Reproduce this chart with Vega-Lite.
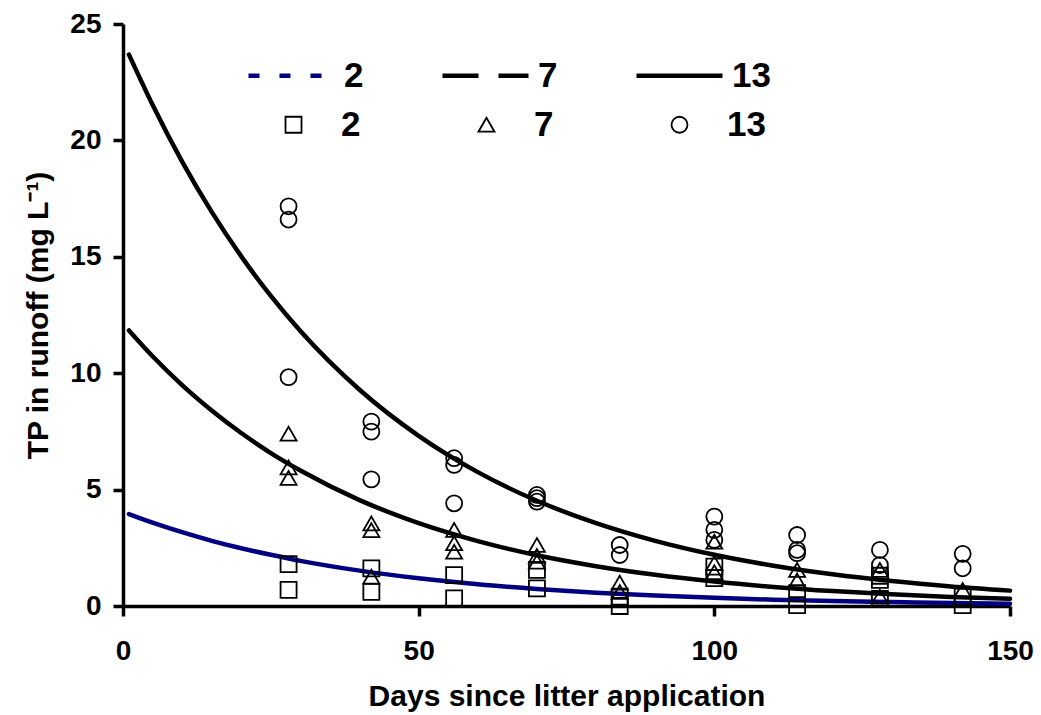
{
  "$schema": "https://vega.github.io/schema/vega-lite/v6.json",
  "width": 887,
  "height": 582,
  "autosize": {"type": "none"},
  "padding": {"left": 123, "top": 24, "right": 31, "bottom": 109},
  "background": "white",
  "config": {
    "view": {"stroke": null},
    "font": "Liberation Sans",
    "axis": {
      "grid": false,
      "domainColor": "black",
      "domainWidth": 3.5,
      "tickColor": "black",
      "tickWidth": 3.5,
      "tickSize": 10,
      "labelFont": "Liberation Sans",
      "labelFontWeight": "bold",
      "labelFontSize": 28,
      "labelColor": "black",
      "titleFont": "Liberation Sans",
      "titleFontWeight": "bold",
      "titleFontSize": 30,
      "titleColor": "black",
      "labelOverlap": false
    }
  },
  "datasets": {
    "curves": [
      {"series": "2", "day": 1, "tp": 3.95}, {"series": "2", "day": 5, "tp": 3.58}, {"series": "2", "day": 10, "tp": 3.17}, {"series": "2", "day": 15, "tp": 2.8}, {"series": "2", "day": 20, "tp": 2.48}, {"series": "2", "day": 25, "tp": 2.2}, {"series": "2", "day": 30, "tp": 1.94}, {"series": "2", "day": 40, "tp": 1.52}, {"series": "2", "day": 50, "tp": 1.19}, {"series": "2", "day": 60, "tp": 0.93}, {"series": "2", "day": 70, "tp": 0.73}, {"series": "2", "day": 80, "tp": 0.57}, {"series": "2", "day": 90, "tp": 0.45}, {"series": "2", "day": 100, "tp": 0.35}, {"series": "2", "day": 110, "tp": 0.27}, {"series": "2", "day": 120, "tp": 0.21}, {"series": "2", "day": 130, "tp": 0.17}, {"series": "2", "day": 140, "tp": 0.13}, {"series": "2", "day": 150, "tp": 0.1},
      {"series": "7", "day": 1, "tp": 11.84}, {"series": "7", "day": 5, "tp": 10.73}, {"series": "7", "day": 10, "tp": 9.49}, {"series": "7", "day": 15, "tp": 8.4}, {"series": "7", "day": 20, "tp": 7.43}, {"series": "7", "day": 25, "tp": 6.57}, {"series": "7", "day": 30, "tp": 5.82}, {"series": "7", "day": 40, "tp": 4.55}, {"series": "7", "day": 50, "tp": 3.56}, {"series": "7", "day": 60, "tp": 2.79}, {"series": "7", "day": 70, "tp": 2.18}, {"series": "7", "day": 80, "tp": 1.71}, {"series": "7", "day": 90, "tp": 1.34}, {"series": "7", "day": 100, "tp": 1.05}, {"series": "7", "day": 110, "tp": 0.82}, {"series": "7", "day": 120, "tp": 0.64}, {"series": "7", "day": 130, "tp": 0.5}, {"series": "7", "day": 140, "tp": 0.39}, {"series": "7", "day": 150, "tp": 0.31},
      {"series": "13", "day": 1, "tp": 23.69}, {"series": "13", "day": 5, "tp": 21.53}, {"series": "13", "day": 10, "tp": 19.09}, {"series": "13", "day": 15, "tp": 16.93}, {"series": "13", "day": 20, "tp": 15.02}, {"series": "13", "day": 25, "tp": 13.32}, {"series": "13", "day": 30, "tp": 11.81}, {"series": "13", "day": 40, "tp": 9.29}, {"series": "13", "day": 50, "tp": 7.31}, {"series": "13", "day": 60, "tp": 5.75}, {"series": "13", "day": 70, "tp": 4.52}, {"series": "13", "day": 80, "tp": 3.56}, {"series": "13", "day": 90, "tp": 2.8}, {"series": "13", "day": 100, "tp": 2.2}, {"series": "13", "day": 110, "tp": 1.73}, {"series": "13", "day": 120, "tp": 1.36}, {"series": "13", "day": 130, "tp": 1.07}, {"series": "13", "day": 140, "tp": 0.84}, {"series": "13", "day": 150, "tp": 0.66}
    ],
    "obs": [
      {"rate": "p13", "day": 28, "tp": 17.17}, {"rate": "p13", "day": 28, "tp": 16.6}, {"rate": "p13", "day": 28, "tp": 9.83},
      {"rate": "p7", "day": 28, "tp": 7.4}, {"rate": "p7", "day": 28, "tp": 5.95}, {"rate": "p7", "day": 28, "tp": 5.5},
      {"rate": "p2", "day": 28, "tp": 1.8}, {"rate": "p2", "day": 28, "tp": 0.69},
      {"rate": "p13", "day": 42, "tp": 7.92}, {"rate": "p13", "day": 42, "tp": 7.49}, {"rate": "p13", "day": 42, "tp": 5.44},
      {"rate": "p7", "day": 42, "tp": 3.55}, {"rate": "p7", "day": 42, "tp": 3.26}, {"rate": "p7", "day": 42, "tp": 1.26},
      {"rate": "p2", "day": 42, "tp": 1.62}, {"rate": "p2", "day": 42, "tp": 0.61},
      {"rate": "p13", "day": 56, "tp": 6.35}, {"rate": "p13", "day": 56, "tp": 6.06}, {"rate": "p13", "day": 56, "tp": 4.41},
      {"rate": "p7", "day": 56, "tp": 3.27}, {"rate": "p7", "day": 56, "tp": 2.7}, {"rate": "p7", "day": 56, "tp": 2.33},
      {"rate": "p2", "day": 56, "tp": 1.33}, {"rate": "p2", "day": 56, "tp": 0.33},
      {"rate": "p13", "day": 70, "tp": 4.77}, {"rate": "p13", "day": 70, "tp": 4.63}, {"rate": "p13", "day": 70, "tp": 4.48},
      {"rate": "p7", "day": 70, "tp": 2.62}, {"rate": "p7", "day": 70, "tp": 2.15}, {"rate": "p7", "day": 70, "tp": 1.9},
      {"rate": "p2", "day": 70, "tp": 1.55}, {"rate": "p2", "day": 70, "tp": 0.76},
      {"rate": "p13", "day": 84, "tp": 2.62}, {"rate": "p13", "day": 84, "tp": 2.19},
      {"rate": "p7", "day": 84, "tp": 1.0}, {"rate": "p7", "day": 84, "tp": 0.6},
      {"rate": "p2", "day": 84, "tp": 0.4}, {"rate": "p2", "day": 84, "tp": 0.0},
      {"rate": "p13", "day": 100, "tp": 3.84}, {"rate": "p13", "day": 100, "tp": 3.27}, {"rate": "p13", "day": 100, "tp": 2.84},
      {"rate": "p7", "day": 100, "tp": 2.76}, {"rate": "p7", "day": 100, "tp": 1.84}, {"rate": "p7", "day": 100, "tp": 1.45},
      {"rate": "p2", "day": 100, "tp": 1.69}, {"rate": "p2", "day": 100, "tp": 1.2},
      {"rate": "p13", "day": 114, "tp": 3.05}, {"rate": "p13", "day": 114, "tp": 2.41}, {"rate": "p13", "day": 114, "tp": 2.27},
      {"rate": "p7", "day": 114, "tp": 1.55}, {"rate": "p7", "day": 114, "tp": 1.1},
      {"rate": "p2", "day": 114, "tp": 0.55}, {"rate": "p2", "day": 114, "tp": 0.04},
      {"rate": "p13", "day": 128, "tp": 2.41}, {"rate": "p13", "day": 128, "tp": 1.76},
      {"rate": "p7", "day": 128, "tp": 1.55}, {"rate": "p7", "day": 128, "tp": 0.4},
      {"rate": "p2", "day": 128, "tp": 1.3}, {"rate": "p2", "day": 128, "tp": 1.12}, {"rate": "p2", "day": 128, "tp": 0.3},
      {"rate": "p13", "day": 142, "tp": 2.24}, {"rate": "p13", "day": 142, "tp": 1.62},
      {"rate": "p7", "day": 142, "tp": 0.69},
      {"rate": "p2", "day": 142, "tp": 0.4}, {"rate": "p2", "day": 142, "tp": 0.04}
    ]
  },
  "layer": [
    {
      "data": {"name": "curves"},
      "mark": {"type": "line", "strokeWidth": 4.5, "interpolate": "monotone", "strokeCap": "round"},
      "encoding": {
        "x": {
          "field": "day", "type": "quantitative",
          "scale": {"domain": [0, 150], "nice": false},
          "axis": {"values": [0, 50, 100, 150], "labelFlush": false, "labelPadding": 21, "title": "Days since litter application", "titlePadding": 16}
        },
        "y": {
          "field": "tp", "type": "quantitative",
          "scale": {"domain": [0, 25], "nice": false},
          "axis": {"values": [0, 5, 10, 15, 20, 25], "labelPadding": 12, "title": "TP in runoff (mg L⁻¹)", "titlePadding": 16}
        },
        "color": {
          "field": "series", "type": "nominal",
          "scale": {"domain": ["2", "7", "13"], "range": ["#000080", "#000000", "#000000"]},
          "legend": {
            "orient": "none", "legendX": 123, "legendY": 6,
            "direction": "horizontal", "columns": 3, "title": null, "padding": 0,
            "symbolType": "stroke", "symbolSize": 7396, "symbolStrokeWidth": 4.5,
            "labelFont": "Liberation Sans", "labelFontSize": 35, "labelFontWeight": "bold", "labelColor": "black",
            "labelOffset": 7, "columnPadding": 69,
            "encode": {"symbols": {"update": {"strokeDash": {"signal": "datum.value == '2' ? [11, 20] : datum.value == '7' ? [36, 20] : []"}}}}
          }
        }
      }
    },
    {
      "data": {"name": "obs"},
      "mark": {"type": "point", "filled": false, "stroke": "black", "strokeWidth": 1.8, "opacity": 1, "size": 256},
      "encoding": {
        "x": {"field": "day", "type": "quantitative"},
        "y": {"field": "tp", "type": "quantitative"},
        "shape": {
          "field": "rate", "type": "nominal",
          "scale": {"domain": ["p2", "p7", "p13"], "range": ["square", "triangle-up", "circle"]},
          "legend": {
            "orient": "none", "legendX": 153, "legendY": 83,
            "direction": "horizontal", "columns": 3, "title": null, "padding": 0,
            "labelExpr": "replace(datum.label, 'p', '')",
            "symbolSize": 256, "symbolStrokeWidth": 1.8, "symbolStrokeColor": "black", "symbolFillColor": "transparent",
            "labelFont": "Liberation Sans", "labelFontSize": 35, "labelFontWeight": "bold", "labelColor": "black",
            "labelOffset": 30, "columnPadding": 108
          }
        }
      }
    }
  ]
}
